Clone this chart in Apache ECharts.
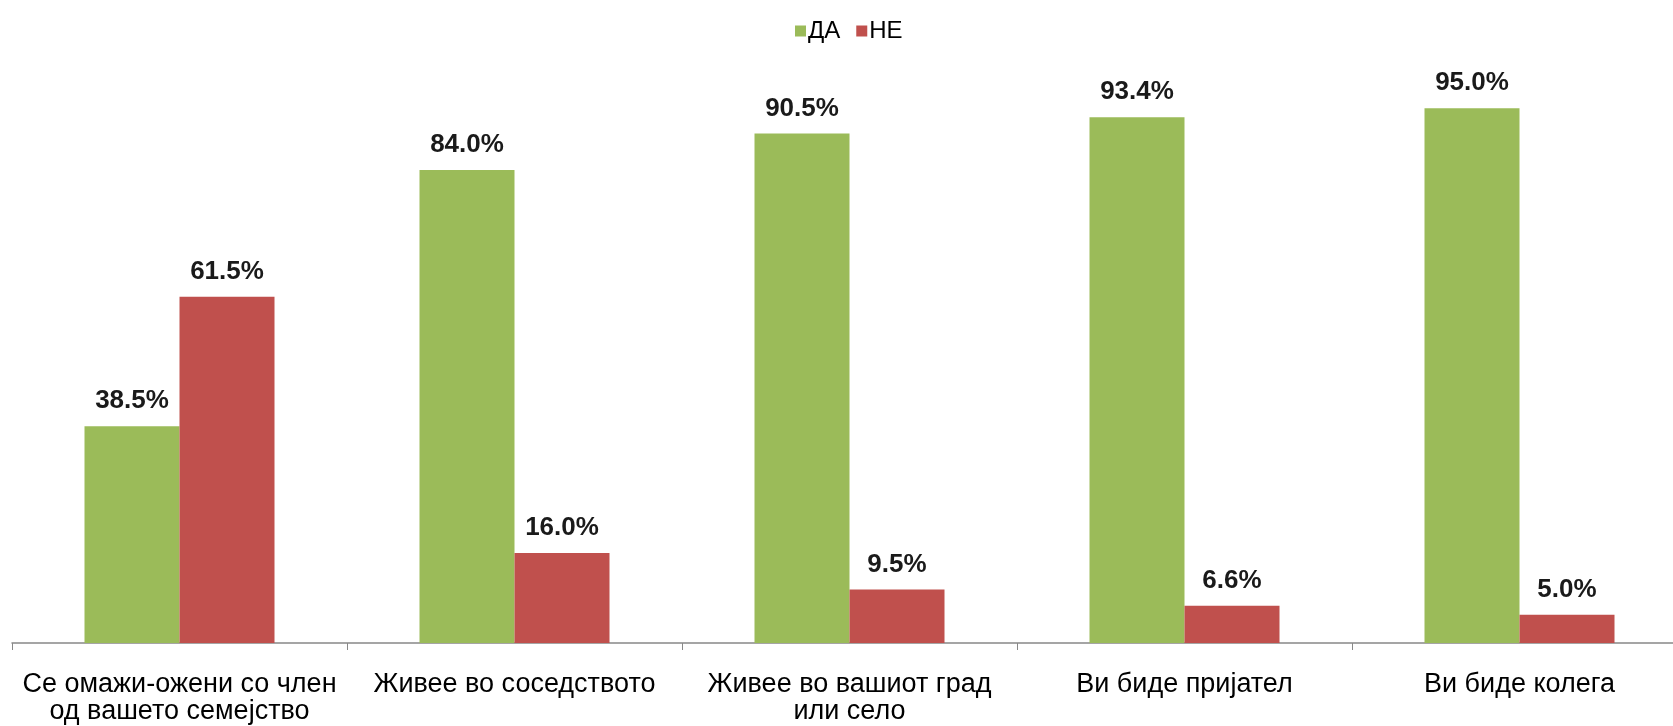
<!DOCTYPE html>
<html>
<head>
<meta charset="utf-8">
<script src="https://cdn.jsdelivr.net/npm/echarts@6/dist/echarts.min.js"></script>
<style>
html,body{margin:0;padding:0;background:#fff;}
#chart{width:1673px;height:726px;}
</style>
</head>
<body>
<div id="chart"></div>
<script>
const categories = [
  'Се омажи-ожени со член\nод вашето семејство',
  'Живее во соседството',
  'Живее во вашиот град\nили село',
  'Ви биде пријател',
  'Ви биде колега'
];
const seriesNames = ['ДА', 'НЕ'];
const yesValues = [38.5, 84.0, 90.5, 93.4, 95.0];
const noValues = [61.5, 16.0, 9.5, 6.6, 5.0];
const colors = ['#9BBB59', '#C0504D'];

const chart = echarts.init(document.getElementById('chart'));
const labelStyle = {
  show: true,
  position: 'top',
  distance: 12,
  fontFamily: 'Liberation Sans, Arial, sans-serif',
  fontWeight: 'bold',
  fontSize: 26,
  color: '#1a1a1a',
  formatter: p => p.value.toFixed(1) + '%'
};
chart.setOption({
  animation: false,
  backgroundColor: '#ffffff',
  legend: {
    data: seriesNames,
    left: 790,
    top: 14,
    icon: 'rect',
    itemWidth: 11,
    itemHeight: 11,
    itemGap: 16,
    textStyle: { fontFamily: 'Liberation Sans, Arial, sans-serif', fontSize: 24, color: '#000', padding: [0,0,0,-3] }
  },
  grid: { left: 12, top: 80, right: -14, height: 563, containLabel: false, outerBoundsMode: 'none' },
  xAxis: {
    type: 'category',
    data: categories,
    axisLine: { show: true, lineStyle: { color: '#888', width: 1.5 } },
    axisTick: { show: true, length: 7, alignWithLabel: false, lineStyle: { color: '#888' } },
    axisLabel: {
      interval: 0,
      margin: 28,
      fontFamily: 'Liberation Sans, Arial, sans-serif',
      fontSize: 27,
      lineHeight: 27,
      color: '#000'
    }
  },
  yAxis: {
    type: 'value',
    min: 0,
    max: 100,
    show: false,
    splitLine: { show: false }
  },
  series: [
    { name: seriesNames[0], type: 'bar', data: yesValues, barWidth: 95, barGap: '0%', itemStyle: { color: colors[0] }, label: labelStyle },
    { name: seriesNames[1], type: 'bar', data: noValues, barWidth: 95, barGap: '0%', itemStyle: { color: colors[1] }, label: labelStyle }
  ]
});
</script>
</body>
</html>
